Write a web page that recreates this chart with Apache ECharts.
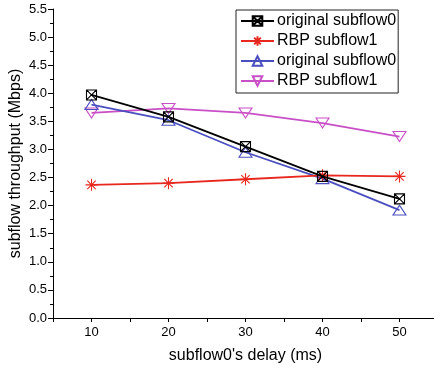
<!DOCTYPE html>
<html><head><meta charset="utf-8">
<script src="https://cdn.jsdelivr.net/npm/echarts@6/dist/echarts.min.js"></script>
<style>html,body{margin:0;padding:0;background:#fff}#c{width:434px;height:368px}</style>
</head><body><div id="c"></div>
<script>
var delays = [10, 20, 30, 40, 50];
var seriesNames = ['original subflow0', 'RBP subflow1', 'original subflow0', 'RBP subflow1'];
var originalSub0A = [3.97, 3.58, 3.05, 2.52, 2.12];
var rbpSub1A = [2.37, 2.40, 2.47, 2.54, 2.52];
var originalSub0B = [3.80, 3.52, 2.95, 2.48, 1.92];
var rbpSub1B = [3.65, 3.73, 3.65, 3.47, 3.23];

var colors = ['#000000', '#e8281e', '#4a4fc0', '#c94fc6'];
var sqX = 'path://M0,0H10V10H0Z M0,0L10,10 M10,0L0,10';
var star = 'path://M0,5H10 M5,0V10 M1.5,1.5L8.5,8.5 M8.5,1.5L1.5,8.5';
var triUp = 'path://M5,0L10,9H0Z';
var triDown = 'path://M0,0H10L5,9Z';
var symbols = [sqX, star, triUp, triDown];
var sizes = [[10,10],[12,12],[13,11],[13,11]];
var datasets = [originalSub0A, rbpSub1A, originalSub0B, rbpSub1B];

function mk(i){
  return {
    name: seriesNames[i] + (i >= 2 ? '\u200b' : ''),
    type: 'line',
    data: delays.map(function(d, k){ return [d, datasets[i][k]]; }),
    symbol: symbols[i],
    symbolSize: sizes[i],
    symbolKeepAspect: true,
    showAllSymbol: true,
    lineStyle: {color: colors[i], width: 1.8},
    itemStyle: {color: 'none', borderColor: colors[i], borderWidth: 1.1},
    emphasis: {disabled: true},
    z: 10 - i
  };
}
var chart = echarts.init(document.getElementById('c'), null, {renderer: 'canvas'});
chart.setOption({
  animation: false,
  textStyle: {fontFamily: 'Liberation Sans, Arial, sans-serif'},
  grid: {left: 53, right: -4, top: 9, bottom: 50, outerBoundsMode: 'none', containLabel: false},
  legend: {
    orient: 'vertical',
    left: 236, top: 10,
    padding: [3, 2, 4, 4],
    itemGap: 4,
    itemWidth: 33, itemHeight: 12,
    borderColor: '#222', borderWidth: 1,
    backgroundColor: '#fff',
    textStyle: {fontSize: 16, lineHeight: 16, color: '#000', fontFamily: 'Liberation Sans, Arial, sans-serif', padding: [0,0,0,-2]},
    data: seriesNames.map(function(n, i){ return n + (i >= 2 ? '\u200b' : ''); })
  },
  xAxis: {
    type: 'value', min: 5, max: 55, interval: 5,
    name: "subflow0's delay (ms)", nameLocation: 'middle', nameGap: 30,
    nameMoveOverlap: false,
    nameTextStyle: {fontSize: 16, color: '#000'},
    axisLine: {lineStyle: {color: '#000', width: 1}},
    axisTick: {show: true, inside: false, length: 4, lineStyle: {color: '#000'}},
    axisLabel: {color: '#000', fontSize: 13, margin: 8,
      formatter: function(v){ return (v % 10 === 0) ? String(v) : ''; }},
    splitLine: {show: false}
  },
  yAxis: {
    type: 'value', min: 0, max: 5.5, interval: 0.5,
    name: 'subflow throughput (Mbps)', nameLocation: 'middle', nameGap: 29,
    nameMoveOverlap: false,
    nameTextStyle: {fontSize: 16, color: '#000'},
    axisLine: {show: true, lineStyle: {color: '#000', width: 1}},
    axisTick: {show: true, inside: false, length: 5, lineStyle: {color: '#000'}},
    minorTick: {show: true, splitNumber: 2, length: 3, lineStyle: {color: '#000'}},
    axisLabel: {color: '#000', fontSize: 13, margin: 6,
      formatter: function(v){ return v.toFixed(1); }},
    splitLine: {show: false}
  },
  series: [mk(0), mk(1), mk(2), mk(3)]
});
</script></body></html>
